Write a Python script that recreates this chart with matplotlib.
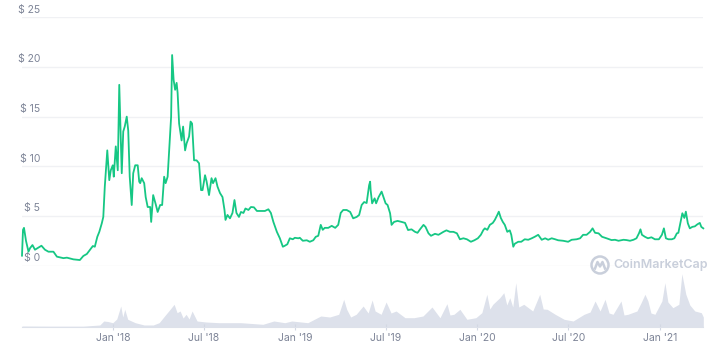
import matplotlib

matplotlib.use("Agg")
import matplotlib.dates as mdates
import matplotlib.pyplot as plt
import matplotlib.transforms as mtransforms
import numpy as np
import pandas as pd
from matplotlib.patches import Circle
from matplotlib.lines import Line2D

# EOS-style price history (USD)
price_dates = [
    "2017-07-02", "2017-07-04", "2017-07-06", "2017-07-10", "2017-07-15", "2017-07-18",
    "2017-07-23", "2017-07-28", "2017-08-07", "2017-08-10", "2017-08-17", "2017-08-24",
    "2017-09-03", "2017-09-10", "2017-09-23", "2017-09-30", "2017-10-13", "2017-10-26",
    "2017-11-02", "2017-11-09", "2017-11-15", "2017-11-21", "2017-11-25", "2017-11-30",
    "2017-12-04", "2017-12-09", "2017-12-12", "2017-12-15", "2017-12-20", "2017-12-24",
    "2017-12-27", "2017-12-31", "2018-01-02", "2018-01-06", "2018-01-10", "2018-01-13",
    "2018-01-16", "2018-01-18", "2018-01-21", "2018-01-24", "2018-01-28", "2018-01-31",
    "2018-02-03", "2018-02-07", "2018-02-10", "2018-02-14", "2018-02-19", "2018-02-22",
    "2018-02-24", "2018-02-27", "2018-03-04", "2018-03-07", "2018-03-11", "2018-03-16",
    "2018-03-18", "2018-03-22", "2018-03-27", "2018-03-31", "2018-04-05", "2018-04-09",
    "2018-04-13", "2018-04-16", "2018-04-20", "2018-04-23", "2018-04-27", "2018-04-29",
    "2018-05-02", "2018-05-05", "2018-05-08", "2018-05-10", "2018-05-13", "2018-05-15",
    "2018-05-18", "2018-05-21", "2018-05-25", "2018-05-28", "2018-06-02", "2018-06-05",
    "2018-06-08", "2018-06-12", "2018-06-17", "2018-06-22", "2018-06-26", "2018-06-29",
    "2018-07-04", "2018-07-07", "2018-07-12", "2018-07-17", "2018-07-20", "2018-07-25",
    "2018-07-29", "2018-08-03", "2018-08-08", "2018-08-12", "2018-08-14", "2018-08-18",
    "2018-08-23", "2018-08-28", "2018-09-01", "2018-09-05", "2018-09-10", "2018-09-14",
    "2018-09-19", "2018-09-23", "2018-09-29", "2018-10-04", "2018-10-10", "2018-10-16",
    "2018-10-22", "2018-11-01", "2018-11-08", "2018-11-13", "2018-11-18", "2018-11-25",
    "2018-12-01", "2018-12-07", "2018-12-11", "2018-12-16", "2018-12-21", "2018-12-27",
    "2018-12-31", "2019-01-07", "2019-01-10", "2019-01-16", "2019-01-24", "2019-01-30",
    "2019-02-06", "2019-02-11", "2019-02-16", "2019-02-21", "2019-02-25", "2019-03-01",
    "2019-03-08", "2019-03-15", "2019-03-22", "2019-03-28", "2019-04-02", "2019-04-07",
    "2019-04-14", "2019-04-21", "2019-04-27", "2019-05-04", "2019-05-09", "2019-05-14",
    "2019-05-19", "2019-05-24", "2019-05-29", "2019-05-31", "2019-06-01", "2019-06-04",
    "2019-06-09", "2019-06-12", "2019-06-17", "2019-06-23", "2019-06-26", "2019-07-01",
    "2019-07-05", "2019-07-10", "2019-07-13", "2019-07-18", "2019-07-25", "2019-08-02",
    "2019-08-09", "2019-08-15", "2019-08-22", "2019-08-29", "2019-09-03", "2019-09-08",
    "2019-09-15", "2019-09-19", "2019-09-25", "2019-09-30", "2019-10-08", "2019-10-15",
    "2019-10-25", "2019-10-31", "2019-11-07", "2019-11-14", "2019-11-21", "2019-11-27",
    "2019-12-04", "2019-12-11", "2019-12-19", "2019-12-26", "2020-01-02", "2020-01-08",
    "2020-01-13", "2020-01-16", "2020-01-21", "2020-01-26", "2020-02-01", "2020-02-05",
    "2020-02-10", "2020-02-13", "2020-02-17", "2020-02-21", "2020-02-25", "2020-03-01",
    "2020-03-06", "2020-03-09", "2020-03-13", "2020-03-16", "2020-03-23", "2020-03-29",
    "2020-04-05", "2020-04-12", "2020-04-19", "2020-04-25", "2020-05-02", "2020-05-09",
    "2020-05-16", "2020-05-22", "2020-05-29", "2020-06-05", "2020-06-11", "2020-06-21",
    "2020-07-01", "2020-07-08", "2020-07-18", "2020-07-25", "2020-07-31", "2020-08-07",
    "2020-08-14", "2020-08-19", "2020-08-24", "2020-08-31", "2020-09-07", "2020-09-16",
    "2020-09-26", "2020-10-03", "2020-10-10", "2020-10-20", "2020-10-26", "2020-11-02",
    "2020-11-09", "2020-11-15", "2020-11-20", "2020-11-23", "2020-11-26", "2020-12-02",
    "2020-12-08", "2020-12-15", "2020-12-22", "2020-12-30", "2021-01-05", "2021-01-09",
    "2021-01-13", "2021-01-18", "2021-01-25", "2021-01-30", "2021-02-04", "2021-02-07",
    "2021-02-11", "2021-02-15", "2021-02-19", "2021-02-22", "2021-02-26", "2021-03-02",
    "2021-03-07", "2021-03-12", "2021-03-17", "2021-03-22", "2021-03-25", "2021-03-29",
]
price_usd = [
    1.0, 3.6, 3.8, 2.5, 1.4, 1.75,
    2.07, 1.6, 1.9, 2.0, 1.6, 1.4,
    1.4, 0.9, 0.75, 0.8, 0.63, 0.56,
    0.97, 1.17, 1.57, 1.97, 1.9, 2.9,
    3.4, 4.26, 4.9, 7.95, 11.6, 8.6,
    9.6, 10.1, 8.95, 12.0, 9.6, 18.2,
    13.0, 9.3, 13.5, 14.0, 15.0, 13.6,
    8.95, 6.1, 9.3, 10.1, 10.1, 8.45,
    8.3, 8.8, 8.3, 6.9, 5.9, 5.9,
    4.4, 7.1, 6.2, 5.4, 6.1, 6.1,
    8.95, 8.3, 8.95, 11.6, 15.0, 21.2,
    18.7, 17.7, 18.4, 17.4, 14.3, 13.6,
    12.6, 14.0, 11.6, 12.3, 13.0, 14.5,
    14.3, 10.6, 10.6, 10.3, 7.6, 7.6,
    9.1, 8.5, 7.1, 8.8, 8.3, 8.8,
    7.95, 7.3, 6.9, 5.6, 4.6, 5.1,
    4.76, 5.3, 6.6, 5.3, 4.9, 5.4,
    5.3, 5.75, 5.6, 5.9, 5.87, 5.5,
    5.5, 5.5, 5.67, 5.3, 4.4, 3.4,
    2.75, 1.9, 2.0, 2.15, 2.75, 2.65,
    2.8, 2.75, 2.8, 2.5, 2.55, 2.4,
    2.55, 2.9, 3.0, 4.1, 3.6, 3.8,
    3.8, 4.0, 3.8, 4.1, 5.3, 5.6,
    5.6, 5.4, 4.76, 4.9, 5.1, 6.1,
    6.4, 6.3, 8.1, 8.45, 7.6, 6.27,
    6.77, 6.27, 6.9, 7.45, 7.0, 6.27,
    6.1, 5.27, 4.1, 4.4, 4.5, 4.4,
    4.3, 3.58, 3.65, 3.4, 3.3, 3.65,
    4.1, 3.9, 3.25, 3.0, 3.2, 3.1,
    3.4, 3.55, 3.4, 3.4, 3.25, 2.65,
    2.75, 2.65, 2.4, 2.55, 2.75, 3.1,
    3.58, 3.75, 3.6, 4.1, 4.3, 4.6,
    5.1, 5.43, 4.8, 4.4, 4.1, 3.4,
    3.55, 3.1, 1.9, 2.2, 2.4, 2.4,
    2.65, 2.6, 2.75, 2.9, 3.1, 2.6,
    2.75, 2.6, 2.75, 2.65, 2.55, 2.5,
    2.4, 2.6, 2.65, 2.75, 3.1, 3.1,
    3.4, 3.75, 3.3, 3.25, 2.9, 2.75,
    2.57, 2.6, 2.5, 2.6, 2.57, 2.5,
    2.6, 2.75, 3.25, 3.65, 3.1, 2.9,
    2.75, 2.85, 2.65, 2.65, 3.1, 3.75,
    2.75, 2.65, 2.65, 2.75, 3.25, 3.3,
    4.26, 5.27, 4.8, 5.43, 4.26, 3.75,
    3.9, 3.95, 4.15, 4.3, 3.9, 3.75,
]

# trading volume (relative units)
volume_dates = [
    "2017-07-02", "2017-09-01", "2017-11-01", "2017-12-05", "2017-12-13", "2017-12-21",
    "2017-12-31", "2018-01-08", "2018-01-16", "2018-01-20", "2018-01-24", "2018-01-30",
    "2018-02-14", "2018-03-04", "2018-03-22", "2018-04-03", "2018-04-15", "2018-04-25",
    "2018-05-03", "2018-05-09", "2018-05-15", "2018-05-21", "2018-05-27", "2018-06-02",
    "2018-06-08", "2018-06-18", "2018-07-06", "2018-08-01", "2018-09-14", "2018-10-28",
    "2018-11-19", "2018-12-11", "2018-12-25", "2019-01-26", "2019-02-21", "2019-03-11",
    "2019-03-29", "2019-04-08", "2019-04-14", "2019-04-22", "2019-05-03", "2019-05-17",
    "2019-05-27", "2019-06-04", "2019-06-10", "2019-06-22", "2019-07-02", "2019-07-12",
    "2019-07-22", "2019-08-09", "2019-08-27", "2019-09-14", "2019-10-02", "2019-10-18",
    "2019-11-01", "2019-11-07", "2019-11-15", "2019-11-27", "2019-12-11", "2019-12-29",
    "2020-01-10", "2020-01-20", "2020-01-26", "2020-02-01", "2020-02-15", "2020-02-23",
    "2020-02-29", "2020-03-06", "2020-03-12", "2020-03-18", "2020-03-24", "2020-04-03",
    "2020-04-21", "2020-05-05", "2020-05-12", "2020-05-20", "2020-06-05", "2020-06-23",
    "2020-07-11", "2020-08-02", "2020-08-14", "2020-08-24", "2020-09-03", "2020-09-13",
    "2020-09-21", "2020-09-29", "2020-10-15", "2020-10-21", "2020-10-29", "2020-11-16",
    "2020-11-24", "2020-12-02", "2020-12-08", "2020-12-14", "2020-12-22", "2021-01-05",
    "2021-01-11", "2021-01-17", "2021-01-27", "2021-02-08", "2021-02-14", "2021-02-22",
    "2021-03-02", "2021-03-12", "2021-03-25", "2021-03-29",
]
volume_rel = [
    1.0, 0.8, 0.8, 2.0, 6.0, 5.5,
    4.3, 8.0, 21.0, 10.0, 17.7, 7.7,
    4.3, 2.0, 2.0, 4.3, 11.7, 17.7,
    22.7, 14.3, 16.0, 9.0, 12.7, 8.0,
    16.0, 6.0, 5.0, 4.3, 4.3, 2.7,
    6.0, 4.3, 6.0, 4.3, 11.0, 10.0,
    12.7, 27.7, 17.7, 10.0, 12.7, 21.0,
    14.0, 27.0, 16.0, 12.7, 25.0, 14.0,
    16.0, 9.3, 9.3, 11.0, 20.0, 9.3,
    23.3, 12.0, 12.7, 17.7, 7.7, 9.3,
    14.3, 32.7, 18.0, 22.7, 29.3, 34.3,
    22.0, 29.3, 20.0, 44.3, 20.0, 22.7,
    16.0, 32.7, 18.0, 17.7, 12.7, 7.7,
    6.0, 12.7, 15.0, 26.0, 16.0, 27.7,
    14.0, 12.7, 26.0, 12.0, 12.7, 16.0,
    24.0, 32.7, 26.0, 14.0, 12.7, 26.0,
    44.3, 25.0, 19.3, 22.7, 53.3, 32.7,
    22.0, 16.0, 14.3, 10.0,
]

price_ticks = [0, 5, 10, 15, 20, 25]
x_tick_dates = ["2018-01-01", "2018-07-01", "2019-01-01", "2019-07-01",
                "2020-01-01", "2020-07-01", "2021-01-01"]

GREEN = "#16c784"
VOL = "#dde1eb"
GRID = "#f0f1f4"
LABEL = "#7d8497"
MARK = "#c9cfdb"

W, H = 720, 351
fig = plt.figure(figsize=(W / 100, H / 100), dpi=100)
fig.patch.set_facecolor("white")

x0 = pd.Timestamp("2017-07-02")
x1 = pd.Timestamp("2021-03-29")
left, width = 22 / W, (703.3 - 22) / W

# price panel
ax = fig.add_axes([left, 1 - 265.6 / H, width, (265.6 - 17.3) / H])
ax.plot(pd.to_datetime(price_dates), price_usd, color=GREEN, lw=1.3,
        solid_joinstyle="round", zorder=3, clip_on=False)
ax.set_xlim(x0, x1)
ax.set_ylim(0, 25)
ax.set_yticks(price_ticks)
ax.yaxis.grid(True, color=GRID, lw=1.0)
ax.set_axisbelow(True)
ax.tick_params(left=False, labelleft=False, bottom=False, labelbottom=False)
for s in ax.spines.values():
    s.set_visible(False)

lab_tr = mtransforms.offset_copy(
    mtransforms.blended_transform_factory(ax.transAxes, ax.transData),
    fig=fig, x=0, y=2.5, units="dots")
for v in price_ticks:
    ax.text((40 - 22) / (703.3 - 22), v, f"$ {v}", transform=lab_tr,
            ha="right", va="bottom", fontsize=7.5, color=LABEL, family="Inter")

# volume panel
vax = fig.add_axes([left, 1 - 327 / H, width, 60 / H])
vax.fill_between(pd.to_datetime(volume_dates), 0, volume_rel, color=VOL, lw=0)
vax.set_xlim(x0, x1)
vax.set_ylim(0, 60)
vax.set_yticks([])
vax.set_xticks(pd.to_datetime(x_tick_dates))
vax.xaxis.set_major_formatter(mdates.DateFormatter("%b '%y"))
vax.tick_params(axis="x", direction="inout", length=5, width=0.8, color="#d3d8e3",
                labelsize=7.5, labelcolor=LABEL, pad=2)
for lbl in vax.get_xticklabels():
    lbl.set_family("Inter")
for s in ("top", "left", "right"):
    vax.spines[s].set_visible(False)
vax.spines["bottom"].set_color("#dde1ea")
vax.spines["bottom"].set_linewidth(0.8)
vax.patch.set_alpha(0)

# CoinMarketCap watermark
cx, cy = 600, H - 265
fig.patches.append(Circle((cx, cy), 8.5, transform=mtransforms.IdentityTransform(),
                          fill=False, ec=MARK, lw=1.8))
fig.lines.append(Line2D([cx - 5, cx - 2.5, cx, cx + 2.5, cx + 5],
                        [cy - 3.5, cy + 3, cy - 1.5, cy + 3, cy - 3.5],
                        transform=mtransforms.IdentityTransform(),
                        color=MARK, lw=1.8, solid_joinstyle="round"))
fig.text(613 / W, 1 - 265 / H, "CoinMarketCap", ha="left", va="center",
         fontsize=9, fontweight="semibold", color=MARK, family="Inter")

fig.savefig("out.png", dpi=100, facecolor="white")
